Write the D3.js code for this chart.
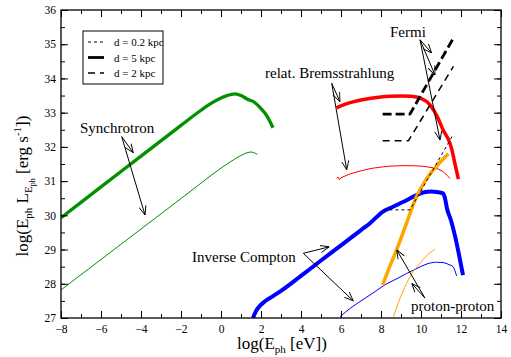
<!DOCTYPE html>
<html><head><meta charset="utf-8">
<script src="https://cdn.jsdelivr.net/npm/d3@7/dist/d3.min.js"></script>
<style>body{margin:0;background:#fff}svg{display:block}svg text{font-family:"Liberation Serif","DejaVu Serif",serif !important}</style>
</head><body><svg id="c" width="511" height="357" font-family="Liberation Serif, DejaVu Serif, serif"></svg>
<script>
// ---- data (log E_ph [eV], log E L [erg/s]) ----
const synchThickX = [-8,-6,-4,-2,-1,-0.5,0,0.3,0.7,1.0,1.3,1.7,2.0,2.3,2.6];
const synchThickY = [29.93,30.83,31.73,32.63,33.07,33.27,33.43,33.5,33.55,33.5,33.4,33.29,33.12,32.9,32.56];
const synchThinX = [-8,-6,-4,-2,-1,0,0.3,0.7,1.1,1.5,1.82];
const synchThinY = [27.82,28.71,29.6,30.49,30.94,31.38,31.5,31.65,31.78,31.85,31.78];
const bremThickX = [5.78,6,6.5,7,7.5,8,8.5,9,9.5,10,10.45,10.8,11.1,11.45,11.55,11.7,11.87];
const bremThickY = [33.14,33.2,33.3,33.37,33.42,33.46,33.48,33.49,33.48,33.42,33.23,32.9,32.5,32.1,31.9,31.5,31.06];
const bremThinX = [5.78,5.85,5.92,6.0,6.5,7,7.5,8,8.5,9,9.5,10,10.5,10.8,11.1,11.3,11.45];
const bremThinY = [31.08,31.12,31.04,31.1,31.22,31.3,31.37,31.41,31.44,31.45,31.45,31.44,31.4,31.37,31.28,31.17,31.08];
const icThickX = [1.6,1.75,1.95,2.2,2.6,3,4,5,6,7,7.45,8.1,8.6,9.3,9.8,10.2,10.5,10.8,11.1,11.2,11.3,11.5,11.7,11.9,12.1];
const icThickY = [27.0,27.2,27.36,27.49,27.64,27.79,28.23,28.68,29.12,29.57,29.77,30.11,30.25,30.45,30.6,30.68,30.7,30.68,30.64,30.5,30.2,29.85,29.4,28.85,28.25];
const icThinX = [5.95,6.5,7,7.6,8.2,8.8,9.28,9.8,10.3,10.78,11.1,11.4,11.6,11.78];
const icThinY = [27.04,27.3,27.5,27.73,27.97,28.15,28.3,28.45,28.58,28.63,28.62,28.56,28.5,28.23];
const ppThickX = [8.08,8.4,8.78,9.2,9.78,10.2,10.62,11.0,11.37];
const ppThickY = [27.96,28.45,28.99,29.65,30.55,31.0,31.33,31.58,31.8];
const ppThinX = [8.62,8.9,9.28,9.6,9.95,10.3,10.7];
const ppThinY = [27.04,27.5,28.01,28.35,28.6,28.83,29.01];
const fermi02X = [8.12,9.45,11.6],  fermi02Y = [30.16,30.16,32.35];
const fermi5X  = [8.08,9.45,11.62], fermi5Y  = [32.96,32.96,35.18];
const fermi2X  = [8.08,9.37,11.62], fermi2Y  = [32.18,32.18,34.35];
const legendLabels = ["d = 0.2 kpc","d = 5 kpc","d = 2 kpc"];
const xTicks = [-8,-6,-4,-2,0,2,4,6,8,10,12,14];
const yTicks = [27,28,29,30,31,32,33,34,35,36];
// annotations: [label, x, y] and arrows [x0,y0,x1,y1]
const labels = [["Fermi",8.45,35.2],["relat. Bremsstrahlung",2.2,34.02],["Synchrotron",-7.05,32.41],["Inverse Compton",-1.45,28.64],["proton-proton",9.5,27.2]];
const arrows = [
 [-4.965,32.30,-4.385,31.83],[-4.965,32.30,-3.8,30.01],
 [5.535,33.86,5.95,33.32],[5.535,33.86,6.285,31.33],
 [9.95,35.13,10.535,34.74],[9.95,35.13,10.7,34.1],[9.95,35.13,10.95,32.2],
 [4.115,28.89,5.415,29.08],[4.115,28.89,6.615,27.5],
 [10.2,27.58,8.785,28.99],[10.2,27.58,9.535,28.01]
];

const FONT = "Liberation Serif, DejaVu Serif, serif";
const svg = d3.select("#c");
const L=61,R=501,T=10,B=318;
const x = d3.scaleLinear().domain([-8,14]).range([L,R]);
const y = d3.scaleLinear().domain([27,36]).range([B,T]);
const zip=(a,b)=>a.map((v,i)=>[v,b[i]]);
const line = d3.line().x(d=>x(d[0])).y(d=>y(d[1])).curve(d3.curveMonotoneX);
const lineL = d3.line().x(d=>x(d[0])).y(d=>y(d[1]));

svg.append("defs").append("marker").attr("id","ah").attr("viewBox","0 0 10 10")
 .attr("refX",10).attr("refY",5).attr("markerWidth",9).attr("markerHeight",9).attr("markerUnits","userSpaceOnUse")
 .attr("orient","auto").append("path").attr("d","M0,1 L10,5 L0,9").attr("fill","none").attr("stroke","#000").attr("stroke-width",1);

const plot = svg.append("g");
plot.append("clipPath").attr("id","clip").append("rect").attr("x",L).attr("y",T).attr("width",R-L).attr("height",B-T);
const g = plot.append("g").attr("clip-path","url(#clip)");

function curve(xs,ys,color,w,dash,lin){
  g.append("path").attr("d",(lin?lineL:line)(zip(xs,ys))).attr("fill","none").attr("stroke",color)
   .attr("stroke-width",w).attr("stroke-linejoin","round").attr("stroke-dasharray",dash||null);
}
curve(synchThickX,synchThickY,"#009000",3.3);
curve(synchThinX,synchThinY,"#009000",1);
curve(bremThickX,bremThickY,"#ff0000",3.5);
curve(bremThinX,bremThinY,"#ff0000",1,null,true);
curve(icThickX,icThickY,"#0000ff",4);
curve(icThinX,icThinY,"#0000ff",1);
curve(ppThickX,ppThickY,"#ffa500",3.5);
curve(ppThinX,ppThinY,"#ffa500",1);
curve(fermi02X,fermi02Y,"#000",1,"3,3",true);
curve(fermi5X,fermi5Y,"#000",2.8,"9,4",true);
curve(fermi2X,fermi2Y,"#000",1.5,"7,5",true);

// arrows
arrows.forEach(a=>{
  svg.append("line").attr("x1",x(a[0])).attr("y1",y(a[1])).attr("x2",x(a[2])).attr("y2",y(a[3]))
   .attr("stroke","#000").attr("stroke-width",1).attr("marker-end","url(#ah)");
});
labels.forEach(l=>{
  svg.append("text").attr("x",x(l[1])).attr("y",y(l[2])).attr("font-size",15).attr("font-family",FONT).text(l[0]);
});

// frame and ticks
svg.append("rect").attr("x",L).attr("y",T).attr("width",R-L).attr("height",B-T).attr("fill","none").attr("stroke","#000").attr("stroke-width",1.3);
const minorX = d3.range(-8,14.01,1), minorY = d3.range(27,36.01,0.5);
function axisStyle(sel){sel.select(".domain").remove();sel.selectAll("line").attr("stroke","#000").attr("stroke-width",1);sel.attr("font-family",FONT);}
const ax = svg.append("g").attr("transform",`translate(0,${B})`).call(d3.axisBottom(x).tickValues(xTicks).tickSize(-7).tickPadding(7).tickFormat(d3.format("d")));
axisStyle(ax); ax.selectAll("text").attr("font-size",11.5).attr("font-family",FONT).attr("fill","#000");
svg.append("g").attr("transform",`translate(0,${B})`).call(d3.axisBottom(x).tickValues(minorX).tickSize(-4).tickFormat("")).call(axisStyle);
svg.append("g").attr("transform",`translate(0,${T})`).call(d3.axisTop(x).tickValues(xTicks).tickSize(-7).tickFormat("")).call(axisStyle);
svg.append("g").attr("transform",`translate(0,${T})`).call(d3.axisTop(x).tickValues(minorX).tickSize(-4).tickFormat("")).call(axisStyle);
const ay = svg.append("g").attr("transform",`translate(${L},0)`).call(d3.axisLeft(y).tickValues(yTicks).tickSize(-7).tickPadding(5).tickFormat(d3.format("d")));
axisStyle(ay); ay.selectAll("text").attr("font-size",11.5).attr("font-family",FONT).attr("fill","#000");
svg.append("g").attr("transform",`translate(${L},0)`).call(d3.axisLeft(y).tickValues(minorY).tickSize(-4).tickFormat("")).call(axisStyle);
svg.append("g").attr("transform",`translate(${R},0)`).call(d3.axisRight(y).tickValues(yTicks).tickSize(-7).tickFormat("")).call(axisStyle);
svg.append("g").attr("transform",`translate(${R},0)`).call(d3.axisRight(y).tickValues(minorY).tickSize(-4).tickFormat("")).call(axisStyle);

// axis titles
const xt = svg.append("text").attr("x",282).attr("y",349).attr("text-anchor","middle").attr("font-size",17).attr("font-family",FONT);
xt.append("tspan").text("log(E");
xt.append("tspan").attr("font-size",11).attr("dy",4).text("ph");
xt.append("tspan").attr("dy",-4).text(" [eV])");
const yt = svg.append("text").attr("transform","translate(28,186) rotate(-90)").attr("text-anchor","middle").attr("font-size",17).attr("font-family",FONT);
yt.append("tspan").text("log(E");
yt.append("tspan").attr("font-size",11).attr("dy",4).text("ph");
yt.append("tspan").attr("dy",-4).text(" L");
yt.append("tspan").attr("font-size",11).attr("dy",4).text("E");
yt.append("tspan").attr("font-size",8).attr("dy",3).text("ph");
yt.append("tspan").attr("dy",-7).text("  [erg s");
yt.append("tspan").attr("font-size",11).attr("dy",-7).text("-1");
yt.append("tspan").attr("dy",7).text("])");

// legend
const lg = svg.append("g");
lg.append("rect").attr("x",83).attr("y",31).attr("width",80).attr("height",53).attr("fill","#fff").attr("stroke","#000").attr("stroke-width",1);
const lstyles=[[1,"3,3"],[2.8,null],[1.5,"7,5"]];
legendLabels.forEach((t,i)=>{
  const yy = 42+i*15.5;
  lg.append("line").attr("x1",88).attr("x2",104).attr("y1",yy).attr("y2",yy).attr("stroke","#000")
    .attr("stroke-width",lstyles[i][0]).attr("stroke-dasharray",lstyles[i][1]);
  lg.append("text").attr("x",114).attr("y",yy+4).attr("font-size",11).attr("font-family",FONT).text(t);
});
</script></body></html>
